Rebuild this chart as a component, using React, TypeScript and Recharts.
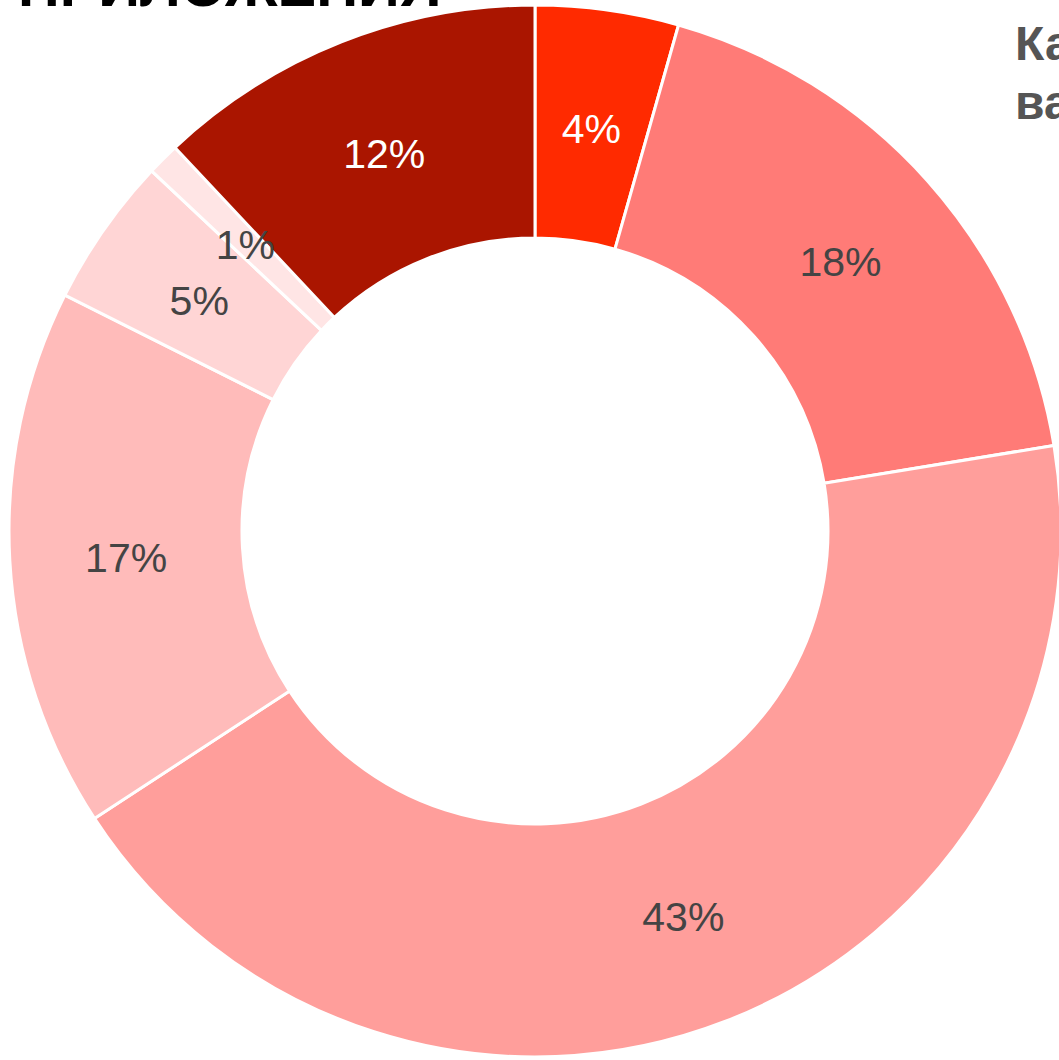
import { PieChart, Pie, Cell } from "recharts";

const categories = ["A", "B", "C", "D", "E", "F", "G"];
const shares = [4.4, 18.0, 43.4, 16.6, 4.6, 1.0, 12.0];
const colors = ["#FF2A00", "#FF7B77", "#FF9E9B", "#FFBBBA", "#FFD5D5", "#FFE5E5", "#AA1500"];
const labelColors = ["#FFFFFF", "#444444", "#444444", "#444444", "#444444", "#444444", "#FFFFFF"];

const data = categories.map((name, i) => ({ name, value: shares[i] }));

const RAD = Math.PI / 180;

function renderLabel(props: any) {
  const { cx, cy, midAngle, innerRadius, outerRadius, percent, index } = props;
  const r = (innerRadius + outerRadius) / 2;
  const x = cx + r * Math.cos(-midAngle * RAD);
  const y = cy + r * Math.sin(-midAngle * RAD) + 4;
  return (
    <text
      x={x}
      y={y}
      fill={labelColors[index]}
      textAnchor="middle"
      dominantBaseline="central"
      fontFamily="Liberation Sans, Arial, sans-serif"
      fontSize={41}
    >
      {`${Math.round(percent * 100)}%`}
    </text>
  );
}

export default function App() {
  return (
    <div style={{ position: "absolute", left: 0, top: 0, width: 1059, height: 1060, overflow: "hidden", background: "#fff" }}>
      <PieChart width={1059} height={1060} margin={{ top: 0, right: 0, bottom: 0, left: 0 }}>
        <Pie
          data={data}
          dataKey="value"
          cx={535}
          cy={531}
          innerRadius={293}
          outerRadius={526}
          startAngle={90}
          endAngle={-270}
          stroke="#fff"
          strokeWidth={3}
          label={renderLabel}
          labelLine={false}
          isAnimationActive={false}
        >
          {data.map((d, i) => (
            <Cell key={d.name} fill={colors[i]} />
          ))}
        </Pie>
      </PieChart>
      <svg width={1059} height={1060} style={{ position: "absolute", left: 0, top: 0, pointerEvents: "none" }}>
        <text x={18} y={6} fontFamily="Liberation Sans, Arial, sans-serif" fontWeight="bold" fontSize={58} fill="#000">
          ПРИЛОЖЕНИЯ
        </text>
        <text x={1015} y={60} fontFamily="Liberation Sans, Arial, sans-serif" fontWeight="bold" fontSize={48} fill="#555">
          Категория
        </text>
        <text x={1015} y={119} fontFamily="Liberation Sans, Arial, sans-serif" fontWeight="bold" fontSize={48} fill="#555">
          ваучери
        </text>
      </svg>
    </div>
  );
}
